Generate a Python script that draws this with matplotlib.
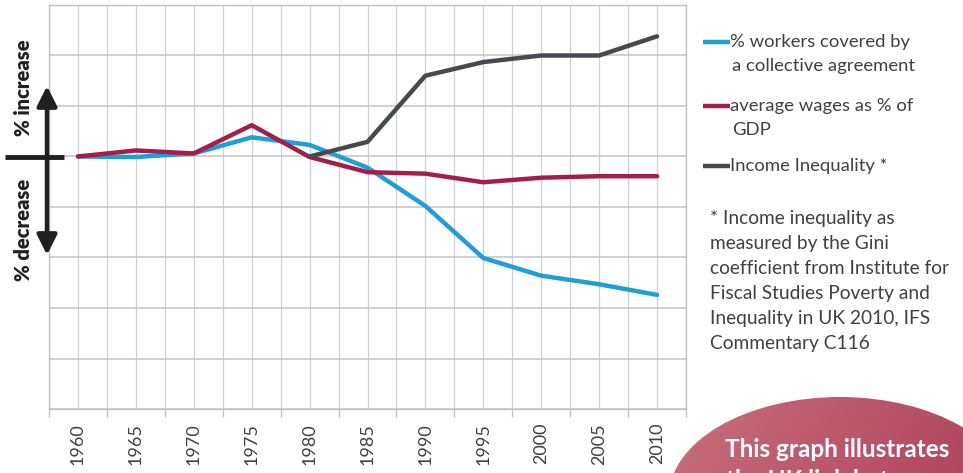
import numpy as np
import matplotlib.pyplot as plt
from matplotlib.patches import Ellipse

# ------------------------------------------------------------------
# data (change relative to 1960, in grid units)
# ------------------------------------------------------------------
years = ["1960", "1965", "1970", "1975", "1980", "1985",
         "1990", "1995", "2000", "2005", "2010"]
workers_covered = [0.0, -0.01, 0.06, 0.38, 0.23, -0.22, -0.98, -2.01, -2.36, -2.53, -2.74]
avg_wages = [0.0, 0.12, 0.06, 0.62, -0.01, -0.31, -0.34, -0.51, -0.42, -0.39, -0.39]
income_inequality = [np.nan, np.nan, np.nan, np.nan, 0.0, 0.29, 1.6, 1.87, 2.0, 2.0, 2.38]

legend_labels = [["% workers covered by", "a collective agreement"],
                 ["average wages as % of", "GDP"],
                 ["Income Inequality *"]]
footnote = ["* Income inequality as",
            "measured by the Gini",
            "coefficient from Institute for",
            "Fiscal Studies Poverty and",
            "Inequality in UK 2010, IFS",
            "Commentary C116"]

BLUE = "#1f9fd5"
RED = "#a51d4a"
GREY = "#46494e"
TXT = "#404040"
INK = "#231f20"

plt.rcParams['font.family'] = ['Lato', 'DejaVu Sans']

W, H = 963, 473
fig = plt.figure(figsize=(W / 100, H / 100), dpi=100)

# ===============================================
# MAIN CHART
# ===============================================
ax = fig.add_axes([49 / W, (H - 409) / H, 637 / W, 404 / H])
x = np.arange(len(years))

ax.plot(x, workers_covered, color=BLUE, lw=3.2, solid_joinstyle='round', solid_capstyle='round', zorder=3)
ax.plot(x, avg_wages, color=RED, lw=3.2, solid_joinstyle='round', solid_capstyle='round', zorder=4)
ax.plot(x, income_inequality, color=GREY, lw=3.2, solid_joinstyle='round', solid_capstyle='round', zorder=5)

ax.set_xlim(-0.5, len(years) - 0.5)
ax.set_ylim(-5, 3)

ax.set_xticks(x)
ax.set_xticklabels(years, rotation=90, fontsize=13, color=TXT)
ax.set_xticks(np.arange(-0.5, len(years), 1.0), minor=True)
ax.tick_params(axis='x', which='major', length=0, pad=10)
ax.tick_params(axis='x', which='minor', length=6, width=1, color="#c4c4c4", direction='out')
ax.set_yticks(np.arange(-5, 4))
ax.set_yticklabels([])
ax.tick_params(axis='y', length=0)

for v in np.arange(-0.5, len(years), 0.5):
    ax.axvline(v, color="#d0d0d0", lw=0.9, zorder=1)
for v in np.arange(-5, 4):
    ax.axhline(v, color="#c4c4c4", lw=1.1, zorder=1)

for s in ax.spines.values():
    s.set_color("#c0c0c0")
    s.set_linewidth(1.0)

# ===============================================
# OVERLAY (pixel coordinates)
# ===============================================
ov = fig.add_axes([0, 0, 1, 1], facecolor='none')
ov.set_xlim(0, W)
ov.set_ylim(H, 0)
ov.axis('off')

# cross and double arrow on the left
ov.plot([5, 64], [157, 157], color=INK, lw=3.5, solid_capstyle='butt')
ov.annotate("", xy=(47, 86), xytext=(47, 255),
            arrowprops=dict(arrowstyle='<|-|>,head_length=1.0,head_width=0.5',
                            lw=3.2, color=INK, mutation_scale=12,
                            shrinkA=0, shrinkB=0))
ov.text(24, 88, "% increase", rotation=90, ha='center', va='center',
        fontsize=14.5, fontweight='heavy', color=INK)
ov.text(24, 230, "% decrease", rotation=90, ha='center', va='center',
        fontsize=14.5, fontweight='heavy', color=INK)

# legend
handle_y = [42, 106, 166]
for col, yy, lines in zip([BLUE, RED, GREY], handle_y, legend_labels):
    ov.plot([703, 730], [yy, yy], color=col, lw=3.2, solid_capstyle='butt')
    for k, t in enumerate(lines):
        ov.text(730 if k == 0 else 732, yy + 24 * k, t, ha='left', va='center',
                fontsize=13.3, color=TXT)

for k, t in enumerate(footnote):
    ov.text(710, 218 + 25 * k, t, ha='left', va='center', fontsize=13.8, color=TXT)

# red blob bottom right
ell = Ellipse((840, 497), 342, 200, facecolor='none', edgecolor='none')
ov.add_patch(ell)
gx, gy = np.meshgrid(np.linspace(0, 1, 200), np.linspace(0, 1, 100))
g = 0.75 * gx + 0.25 * gy
c0 = np.array([200, 112, 124]) / 255
c1 = np.array([170, 56, 86]) / 255
img = c0[None, None, :] * (1 - g[..., None]) + c1[None, None, :] * g[..., None]
im = ov.imshow(img, extent=[665, 1015, 600, 395], origin='upper', aspect='auto', zorder=2)
im.set_clip_path(ell)
ov.set_xlim(0, W)
ov.set_ylim(H, 0)

ov.text(837, 449, "This graph illustrates", ha='center', va='center',
        fontsize=17.5, fontweight='bold', color='white', zorder=3)
ov.text(837, 480, "the UK link between", ha='center', va='center',
        fontsize=17.5, fontweight='bold', color='white', zorder=3)

fig.savefig("out.png", dpi=100)
